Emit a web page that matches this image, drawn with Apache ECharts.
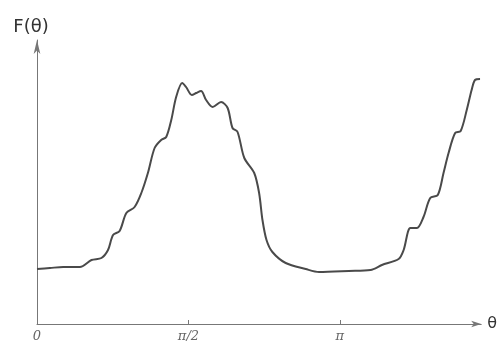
<!DOCTYPE html>
<html>
<head>
<meta charset="utf-8">
<script src="https://cdn.jsdelivr.net/npm/echarts@6/dist/echarts.min.js"></script>
<style>
  html, body { margin: 0; padding: 0; background: #fff; }
  #chart { width: 500px; height: 344px; }
</style>
</head>
<body>
<div id="chart"></div>
<script>
// theta in degrees (pi/2 = 90, pi = 180), F in arbitrary units
const thetaDeg = [0, 7.7, 15.6, 25.5, 32.4, 38.3, 42.2, 45.2, 49.1, 53.1, 58.0, 62.0, 65.9, 69.9,
  73.8, 76.8, 79.8, 82.7, 86.3, 88.6, 92.0, 94.6, 97.5, 100.5, 104.4, 109.4, 113.3, 116.2,
  119.2, 123.2, 129.1, 132.0, 134.0, 136.4, 139.9, 147.8, 159.7, 167.6, 185.3, 198.2, 205.0,
  214.9, 217.9, 221.9, 225.8, 229.7, 233.7, 238.2, 241.6, 244.6, 248.5, 251.8, 255.4, 258.3,
  260.3, 263.3];
const fValues = [55, 56, 57, 57, 64, 66, 74, 89, 93, 111, 117, 131, 151, 176,
  184, 187, 204, 227, 241, 237, 229, 231, 233, 224, 217, 222, 216, 196,
  192, 166, 151, 131, 104, 84, 72, 61, 55, 52, 53, 54, 59,
  65, 74, 96, 96, 107, 126, 129, 151, 171, 191, 193, 214, 234,
  244, 245];
const tickValues = [0, 90, 180];
const tickLabels = ['0', 'π/2', 'π'];

const chart = echarts.init(document.getElementById('chart'));
const option = {
    animation: false,
    grid: { left: 37, top: 40, width: 446, height: 284 },
    xAxis: {
        type: 'value',
        min: 0,
        max: 264,
        name: 'θ',
        nameLocation: 'end',
        nameGap: 6,
        nameTextStyle: { fontFamily: 'DejaVu Sans', fontSize: 16, color: '#333' },
        axisLine: { lineStyle: { color: '#777', width: 1 }, symbol: ['none', 'arrow'], symbolSize: [5, 10] },
        axisTick: { show: true, inside: true, length: 4, customValues: [90, 180], lineStyle: { color: '#777' } },
        axisLabel: {
            customValues: tickValues,
            margin: 6,
            fontFamily: 'DejaVu Serif',
            fontStyle: 'italic',
            fontSize: 13,
            color: '#666',
            formatter: function (v) {
                const i = tickValues.indexOf(v);
                return i >= 0 ? tickLabels[i] : '';
            }
        },
        splitLine: { show: false }
    },
    yAxis: {
        type: 'value',
        min: 0,
        max: 284,
        name: 'F(θ)',
        nameLocation: 'end',
        nameGap: 4,
        nameTextStyle: { fontFamily: 'DejaVu Sans', fontSize: 18, color: '#333', align: 'center', padding: [0, 12, 0, 0] },
        axisLine: { show: true, lineStyle: { color: '#777', width: 1 }, symbol: ['none', 'arrow'], symbolSize: [5, 14] },
        axisTick: { show: false },
        axisLabel: { show: false },
        splitLine: { show: false }
    },
    series: [{
        type: 'line',
        data: thetaDeg.map((t, i) => [t, fValues[i]]),
        smooth: 0.3,
        showSymbol: false,
        lineStyle: { color: '#4a4a4a', width: 2 }
    }]
};
chart.setOption(option);
</script>
</body>
</html>
